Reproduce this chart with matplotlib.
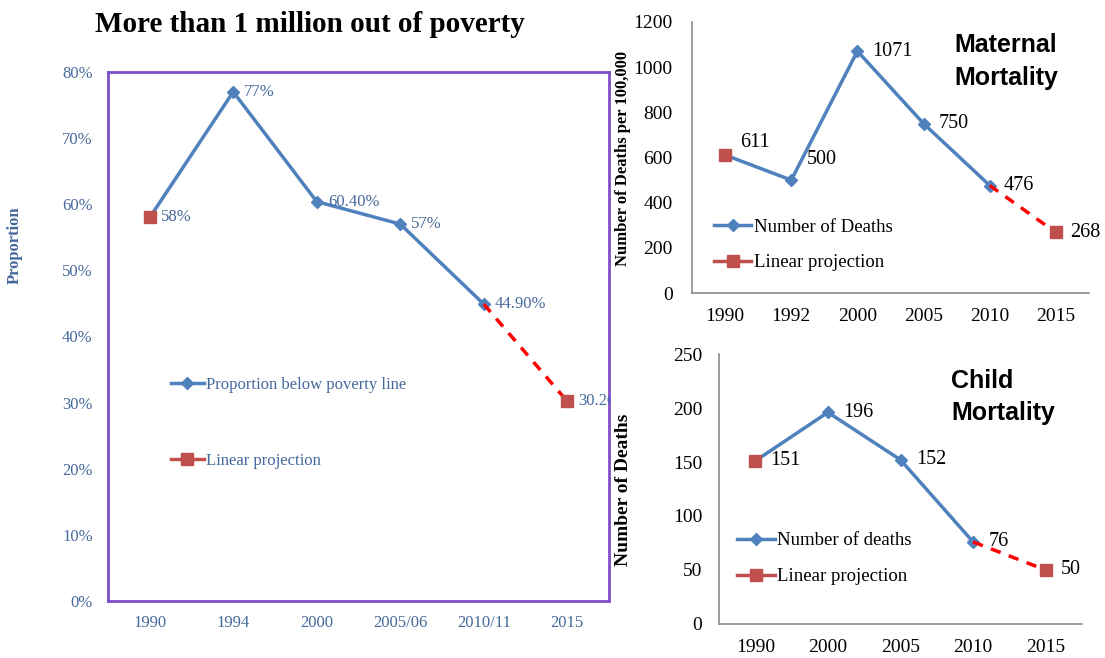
import matplotlib
matplotlib.use('Agg')
import matplotlib.pyplot as plt
from matplotlib.lines import Line2D
from matplotlib.ticker import FuncFormatter

# data
pov_years = ['1990', '1994', '2000', '2005/06', '2010/11', '2015']
pov_values = [0.58, 0.77, 0.604, 0.57, 0.449, 0.302]
pov_labels = ['58%', '77%', '60.40%', '57%', '44.90%', '30.20%']

mat_years = ['1990', '1992', '2000', '2005', '2010', '2015']
mat_values = [611, 500, 1071, 750, 476, 268]

child_years = ['1990', '2000', '2005', '2010', '2015']
child_values = [151, 196, 152, 76, 50]

BLUE = '#4F81BD'
RED = '#C0504D'
DASH = '#FF0000'
TXT = '#46699B'
SERIF = 'Liberation Serif'
SANS = 'Liberation Sans'

W, H = 1105, 658


def box(l, t, r, b):
    return [l / W, 1 - b / H, (r - l) / W, (b - t) / H]


def draw_series(ax, vals, lw=2.5):
    x = list(range(len(vals)))
    # measured series (all but the projected last point)
    ax.plot(x[:-1], vals[:-1], color=BLUE, lw=lw, marker='D', ms=6,
            zorder=3)
    # projection: dashed from last measured point to the projected one
    ax.plot(x[-2:], vals[-2:], color=DASH, lw=lw, ls=(0, (3, 2.5)), zorder=3)
    ax.plot([x[0], x[-1]], [vals[0], vals[-1]], ls='none', marker='s',
            ms=8, color=RED, zorder=4)


def legend(ax, label1, anchor, spacing, fs, color):
    h1 = Line2D([], [], color=BLUE, lw=2.5, marker='D', ms=6)
    h2 = Line2D([], [], color=RED, lw=2.5, marker='s', ms=8)
    ax.legend([h1, h2], [label1, 'Linear projection'], loc='upper left',
              bbox_to_anchor=anchor, frameon=False, handlelength=2.0,
              handletextpad=0.15, labelspacing=spacing,
              prop={'family': SERIF, 'size': fs}, labelcolor=color,
              borderpad=0, borderaxespad=0)


fig = plt.figure(figsize=(W / 100, H / 100), dpi=100)

# ---- poverty chart ----
ax1 = fig.add_axes(box(108, 72, 609, 601))
draw_series(ax1, pov_values)
ax1.set_xlim(-0.5, len(pov_years) - 0.5)
ax1.set_ylim(0, 0.8)
ax1.set_xticks(range(len(pov_years)))
ax1.set_xticklabels(pov_years)
ax1.set_yticks([i / 10 for i in range(9)])
ax1.yaxis.set_major_formatter(FuncFormatter(lambda v, p: f'{v * 100:.0f}%'))
ax1.tick_params(length=0, labelsize=12, labelcolor=TXT)
ax1.tick_params(axis='y', pad=11)
ax1.tick_params(axis='x', pad=10)
for lab in ax1.get_xticklabels() + ax1.get_yticklabels():
    lab.set_family(SERIF)
for s in ax1.spines.values():
    s.set_color('#7E4FCB')
    s.set_linewidth(2)
for i, (v, t) in enumerate(zip(pov_values, pov_labels)):
    ax1.annotate(t, (i, v), xytext=(8, 0), textcoords='offset points',
                 ha='left', va='center', fontsize=12, color=TXT,
                 family=SERIF, annotation_clip=False, clip_on=True)
legend(ax1, 'Proportion below poverty line', (0.125, 0.424), 3.6, 12, TXT)
fig.text(15 / W, 1 - 245 / H, 'Proportion', rotation=90, ha='center',
         va='center', fontsize=12, fontweight='bold', color=TXT,
         family=SERIF)
fig.text(310 / W, 1 - 25 / H, 'More than 1 million out of poverty',
         ha='center', va='center', fontsize=21, fontweight='bold',
         family=SERIF)


def small_axes(rect, years, vals, ymax, ystep, ypad):
    ax = fig.add_axes(rect)
    draw_series(ax, vals)
    ax.set_xlim(-0.5, len(years) - 0.5)
    ax.set_ylim(0, ymax)
    ax.set_xticks(range(len(years)))
    ax.set_xticklabels(years)
    ax.set_yticks(range(0, ymax + 1, ystep))
    ax.tick_params(length=0, labelsize=14)
    ax.tick_params(axis='y', pad=ypad)
    ax.tick_params(axis='x', pad=11)
    for lab in ax.get_xticklabels() + ax.get_yticklabels():
        lab.set_family(SERIF)
    for s in ['top', 'right']:
        ax.spines[s].set_visible(False)
    for s in ['left', 'bottom']:
        ax.spines[s].set_color('#8C8C8C')
        ax.spines[s].set_linewidth(1.2)
    ax.patch.set_alpha(0)
    return ax


# ---- maternal mortality ----
ax2 = small_axes(box(692, 22, 1089, 293), mat_years, mat_values, 1200, 200, 14)
mat_off = [(11, 9), (11, 15), (11, 0), (11, 0), (10, 0), (10, 0)]
for i, v in enumerate(mat_values):
    ax2.annotate(str(v), (i, v), xytext=mat_off[i], textcoords='offset points',
                 ha='left', va='center', fontsize=14.5, family=SERIF)
legend(ax2, 'Number of Deaths', (0.055, 0.275), 1.0, 13.5, 'black')
ax2.text(0.66, 0.855, 'Maternal\nMortality', transform=ax2.transAxes,
         ha='left', va='center', fontsize=18, fontweight='bold',
         family=SANS, linespacing=1.45)
fig.text(623 / W, 1 - 158 / H, 'Number of Deaths per 100,000', rotation=90,
         ha='center', va='center', fontsize=12, fontweight='bold',
         family=SERIF)

# ---- child mortality ----
ax3 = small_axes(box(719, 354, 1082, 624), child_years, child_values, 250, 50, 12)
child_off = [(11, 0), (11, 0), (11, 0), (11, 0), (11, 0)]
for i, v in enumerate(child_values):
    ax3.annotate(str(v), (i, v), xytext=child_off[i], textcoords='offset points',
                 ha='left', va='center', fontsize=14.5, family=SERIF)
legend(ax3, 'Number of deaths', (0.05, 0.34), 1.0, 13.5, 'black')
ax3.text(0.64, 0.84, 'Child\nMortality', transform=ax3.transAxes,
         ha='left', va='center', fontsize=18, fontweight='bold',
         family=SANS, linespacing=1.45)
fig.text(623 / W, 1 - 490 / H, 'Number of Deaths', rotation=90,
         ha='center', va='center', fontsize=14, fontweight='bold',
         family=SERIF)

fig.savefig('out.png', dpi=100)
